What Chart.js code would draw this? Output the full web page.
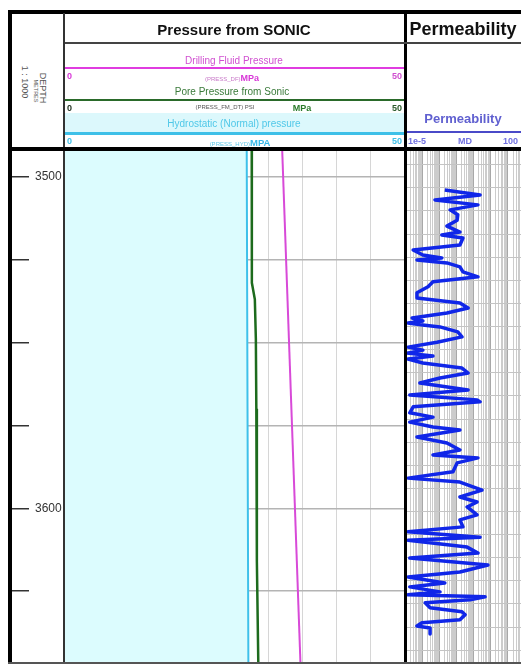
<!DOCTYPE html>
<html><head><meta charset="utf-8">
<script src="https://cdn.jsdelivr.net/npm/chart.js@4"></script>
<style>
html,body{margin:0;padding:0;width:521px;height:664px;overflow:hidden;background:#fff;font-family:"Liberation Sans",Arial,sans-serif;}
.b{position:absolute;z-index:5;}
.t{position:absolute;white-space:nowrap;transform:translate(-50%,-50%);line-height:1;z-index:6;}
.l{position:absolute;white-space:nowrap;transform:translate(0,-50%);line-height:1;z-index:6;}
.r{position:absolute;white-space:nowrap;transform:translate(-100%,-50%);line-height:1;z-index:6;}
.v{position:absolute;white-space:nowrap;transform:translate(-50%,-50%) rotate(90deg);line-height:1;color:#555;z-index:6;}
canvas{position:absolute;z-index:1;}
</style></head><body>
<!-- header bands -->
<div class="b" style="left:65px;top:113px;width:339px;height:20px;background:#dcf8fc;z-index:2"></div>
<div class="b" style="left:65px;top:67px;width:339px;height:2px;background:#e03ce0"></div>
<div class="b" style="left:65px;top:99px;width:339px;height:2px;background:#2a6a2a"></div>
<div class="b" style="left:65px;top:132px;width:339px;height:3px;background:#3ec0e8"></div>
<div class="b" style="left:407px;top:131px;width:114px;height:2px;background:#4a4ac8"></div>
<!-- frame -->
<div class="b" style="left:8px;top:10px;width:513px;height:4px;background:#000"></div>
<div class="b" style="left:8px;top:10px;width:4px;height:654px;background:#000"></div>
<div class="b" style="left:63px;top:13px;width:2px;height:651px;background:#333"></div>
<div class="b" style="left:404px;top:13px;width:3px;height:651px;background:#000"></div>
<div class="b" style="left:65px;top:42px;width:456px;height:2px;background:#444"></div>
<div class="b" style="left:8px;top:147px;width:513px;height:4px;background:#000"></div>
<div class="b" style="left:8px;top:662px;width:513px;height:2px;background:#555"></div>

<!-- titles -->
<div class="t" style="left:234px;top:29px;font-size:15px;font-weight:bold;color:#111">Pressure from SONIC</div>
<div class="t" style="left:463px;top:29px;font-size:18px;font-weight:bold;color:#111">Permeability</div>

<!-- depth header -->
<div class="v" style="left:41.5px;top:88px;font-size:9px">DEPTH</div>
<div class="v" style="left:34.5px;top:91px;font-size:5.5px">METRES</div>
<div class="v" style="left:23.5px;top:82px;font-size:9px">1 : 1000</div>

<!-- drilling fluid pressure -->
<div class="t" style="left:234px;top:61px;font-size:10px;color:#d050d0">Drilling Fluid Pressure</div>
<div class="t" style="left:232px;top:76px"><span style="font-size:6px;color:#c878c8">(PRESS_DF)</span><span style="font-size:9px;font-weight:bold;color:#d838d8">MPa</span></div>
<div class="l" style="left:67px;top:76px;font-size:9px;font-weight:bold;color:#d838d8">0</div>
<div class="r" style="left:402px;top:76px;font-size:9px;font-weight:bold;color:#d050d0">50</div>
<!-- pore pressure -->
<div class="t" style="left:232px;top:92px;font-size:10px;color:#3a7a3a">Pore Pressure from Sonic</div>
<div class="t" style="left:225px;top:107px;font-size:6px;color:#555">(PRESS_FM_DT) PSI</div>
<div class="t" style="left:302px;top:108px;font-size:9px;font-weight:bold;color:#2a7a2a">MPa</div>
<div class="l" style="left:67px;top:108px;font-size:9px;font-weight:bold;color:#223322">0</div>
<div class="r" style="left:402px;top:108px;font-size:9px;font-weight:bold;color:#2a5a2a">50</div>
<!-- hydrostatic -->
<div class="t" style="left:234px;top:124px;font-size:10px;color:#50c8e8">Hydrostatic (Normal) pressure</div>
<div class="t" style="left:240px;top:141px"><span style="font-size:6px;color:#60c8e8">(PRESS_HYD)</span><span style="font-size:9.5px;font-weight:bold;color:#38b8e8">MPA</span></div>
<div class="l" style="left:67px;top:141px;font-size:9px;font-weight:bold;color:#40c0e8">0</div>
<div class="r" style="left:402px;top:141px;font-size:9px;font-weight:bold;color:#40c0e8">50</div>
<!-- permeability header -->
<div class="t" style="left:463px;top:118px;font-size:13px;font-weight:bold;color:#6060d0">Permeability</div>
<div class="l" style="left:408px;top:141px;font-size:9px;font-weight:bold;color:#7070e0">1e-5</div>
<div class="t" style="left:465px;top:141px;font-size:9px;font-weight:bold;color:#7070e0">MD</div>
<div class="l" style="left:503px;top:141px;font-size:9px;font-weight:bold;color:#7070e0">100</div>

<canvas id="cd" width="51" height="512" style="left:12px;top:151px"></canvas>
<canvas id="cp" width="339" height="512" style="left:65px;top:151px"></canvas>
<canvas id="ck" width="120" height="512" style="left:405px;top:151px"></canvas>

<script>
// ---- data ----
const depthRange = [3492.25, 3646.65];
const depthTickValues = [3500, 3525, 3550, 3575, 3600, 3625];
const depthTickLabels = ['3500', '', '', '', '3600', ''];
const pressureGrid = [0, 5, 10, 15, 20, 25, 30, 35, 40, 45, 50];
const pressureRange = [0, 50];

const hydroDepth = [3490, 3570, 3648];
const hydroMPa = [26.8, 26.92, 27.05];

const poreDepth = [3490, 3532, 3537, 3549, 3570, 3616, 3648];
const poreMPa = [27.54, 27.56, 28.0, 28.15, 28.22, 28.3, 28.52];

const mudDepth = [3490, 3648];
const mudMPa = [32.0, 34.75];

const permRange = [1e-5, 100];
const permGridStart = 3496.4, permGridStep = 6.97;
const permDepth = [
  3504.0, 3505.5, 3507.0, 3508.5, 3510.0, 3511.5, 3513.1, 3514.9, 3516.7, 3517.6,
  3518.5, 3520.6, 3522.1, 3523.6, 3524.5, 3525.1, 3526.0, 3527.2, 3528.7, 3530.2,
  3531.7, 3533.2, 3535.0, 3536.6, 3538.1, 3539.6, 3541.1, 3542.6, 3543.5, 3544.1,
  3544.7, 3545.3, 3546.8, 3548.3, 3549.9, 3551.4, 3552.3, 3553.2, 3554.1, 3555.0,
  3556.2, 3557.7, 3559.2, 3560.7, 3562.2, 3564.3, 3565.8, 3567.3, 3567.9, 3569.4,
  3571.2, 3572.5, 3574.0, 3575.5, 3576.4, 3578.5, 3580.3, 3582.4, 3583.9, 3584.8,
  3586.3, 3589.0, 3590.9, 3592.1, 3594.5, 3596.6, 3598.1, 3599.6, 3602.0, 3603.5,
  3605.6, 3607.1, 3608.7, 3609.6, 3611.7, 3613.5, 3615.0, 3617.1, 3619.2, 3620.7,
  3622.5, 3623.7, 3625.2, 3626.1, 3626.7, 3627.6, 3628.5, 3630.0, 3631.2, 3632.1,
  3633.6, 3634.5, 3635.5, 3636.1, 3637.9
];
const permMD = [
  2.1e-3, 0.24, 5.6e-4, 0.18, 4.3e-3, 1.2e-2, 1.1e-2, 2.8e-3, 1.6e-2, 1.4e-3,
  2.4e-2, 1.6e-2, 3.0e-5, 1.1e-4, 1.4e-3, 5.0e-5, 2.8e-3, 1.6e-2, 2.4e-2, 0.18,
  4.3e-4, 2.2e-4, 5.0e-5, 5.0e-5, 1.6e-2, 4.8e-2, 2.8e-3, 2.6e-5, 1.1e-4, 1.5e-5,
  1.1e-4, 1.1e-3, 1.2e-2, 2.1e-2, 7.4e-4, 1.5e-5, 1.1e-4, 1.3e-5, 4.3e-4, 1.5e-5,
  1.1e-4, 2.1e-2, 4.8e-2, 1.1e-3, 7.4e-5, 4.8e-2, 1.9e-5, 0.16, 0.24, 3.0e-5,
  1.9e-5, 4.3e-4, 1.9e-5, 4.3e-4, 1.6e-2, 5.0e-5, 2.8e-3, 1.6e-2, 4.3e-4, 0.18,
  1.1e-2, 6.3e-3, 1.5e-5, 1.6e-2, 0.31, 1.6e-2, 0.16, 4.2e-2, 0.16, 1.6e-2,
  2.4e-2, 1.5e-5, 0.24, 1.5e-5, 4.2e-2, 0.18, 1.9e-5, 0.69, 1.6e-2, 1.5e-5,
  2.1e-3, 1.9e-5, 1.1e-3, 1.5e-5, 0.47, 6.2e-2, 1.5e-4, 2.9e-4, 2.1e-2, 3.2e-2,
  1.6e-2, 9.8e-5, 5.0e-5, 2.9e-4, 2.9e-4
];

// ---- helpers ----
const pts = (ds, vs) => ds.map((d, i) => ({x: vs[i], y: d}));
const zeroSize = s => { if (s.isHorizontal()) s.height = 0; else s.width = 0; s.paddingTop = 0; s.paddingBottom = 0; s.paddingLeft = 0; s.paddingRight = 0; };
const setTicks = vals => s => { s.ticks = vals.map(v => ({value: v})); };
const base = {
  responsive: false, animation: false, devicePixelRatio: 1,
  plugins: {legend: {display: false}, tooltip: {enabled: false}},
  layout: {padding: 0},
  events: []
};

// ---- depth track ----
new Chart(document.getElementById('cd'), {
  type: 'line',
  data: {datasets: [{data: []}]},
  options: Object.assign({}, base, {
    scales: {
      x: {type: 'linear', display: false, min: 0, max: 1},
      y: {
        type: 'linear', position: 'right', reverse: true,
        min: depthRange[0], max: depthRange[1],
        afterBuildTicks: setTicks(depthTickValues),
        afterFit: s => { s.width = 34; s.paddingTop = 0; s.paddingBottom = 0; },
        border: {display: false},
        grid: {drawTicks: false, color: '#333', lineWidth: 1.5},
        ticks: {
          padding: 6, color: '#333', font: {family: 'Liberation Sans', size: 12},
          callback: (v, i) => depthTickLabels[i]
        }
      }
    }
  })
});

// ---- pressure track ----
new Chart(document.getElementById('cp'), {
  type: 'line',
  data: {datasets: [
    {label: 'Hydrostatic (Normal) pressure', data: pts(hydroDepth, hydroMPa),
     borderColor: '#3ec0ea', borderWidth: 2, backgroundColor: '#dcfcfe', fill: {value: 0}},
    {label: 'Pore Pressure from Sonic', data: pts(poreDepth, poreMPa),
     borderColor: '#1d6b1d', borderWidth: 2.5, fill: false},
    {label: 'Drilling Fluid Pressure', data: pts(mudDepth, mudMPa),
     borderColor: '#d84ad8', borderWidth: 2, fill: false}
  ]},
  options: Object.assign({}, base, {
    indexAxis: 'y',
    elements: {point: {radius: 0}, line: {tension: 0}},
    scales: {
      x: {type: 'linear', min: pressureRange[0], max: pressureRange[1],
          afterBuildTicks: setTicks(pressureGrid), afterFit: zeroSize,
          border: {display: false}, ticks: {display: false},
          grid: {drawTicks: false, color: '#d6d6d6', lineWidth: 1}},
      y: {type: 'linear', reverse: true, min: depthRange[0], max: depthRange[1],
          afterBuildTicks: setTicks(depthTickValues), afterFit: zeroSize,
          border: {display: false}, ticks: {display: false},
          grid: {drawTicks: false, color: '#b4b4b4', lineWidth: 1.5}}
    }
  })
});

// ---- permeability track ----
const permGrid = [];
for (let e = -5; e < 2; e++) for (let m = 1; m < 10; m++) permGrid.push(m * Math.pow(10, e));
permGrid.push(100);
const permDepthGrid = [];
for (let d = permGridStart; d < depthRange[1]; d += permGridStep) permDepthGrid.push(d);
const isDecade = v => Math.abs(Math.log10(v) - Math.round(Math.log10(v))) < 1e-6;

new Chart(document.getElementById('ck'), {
  type: 'line',
  data: {datasets: [
    {label: 'Permeability', data: pts(permDepth, permMD),
     borderColor: '#1026e8', borderWidth: 3.5, fill: false, borderJoinStyle: 'round'}
  ]},
  options: Object.assign({}, base, {
    indexAxis: 'y',
    elements: {point: {radius: 0}, line: {tension: 0}},
    scales: {
      x: {type: 'logarithmic', min: permRange[0], max: permRange[1],
          afterBuildTicks: setTicks(permGrid), afterFit: zeroSize,
          border: {display: false}, ticks: {display: false},
          grid: {drawTicks: false, lineWidth: 1,
                 color: c => (c.tick && isDecade(c.tick.value)) ? '#a8a8a8' : '#cccccc'}},
      y: {type: 'linear', reverse: true, min: depthRange[0], max: depthRange[1],
          afterBuildTicks: setTicks(permDepthGrid), afterFit: zeroSize,
          border: {display: false}, ticks: {display: false},
          grid: {drawTicks: false, color: '#c4c4c4', lineWidth: 1}}
    }
  })
});
</script>
</body></html>
